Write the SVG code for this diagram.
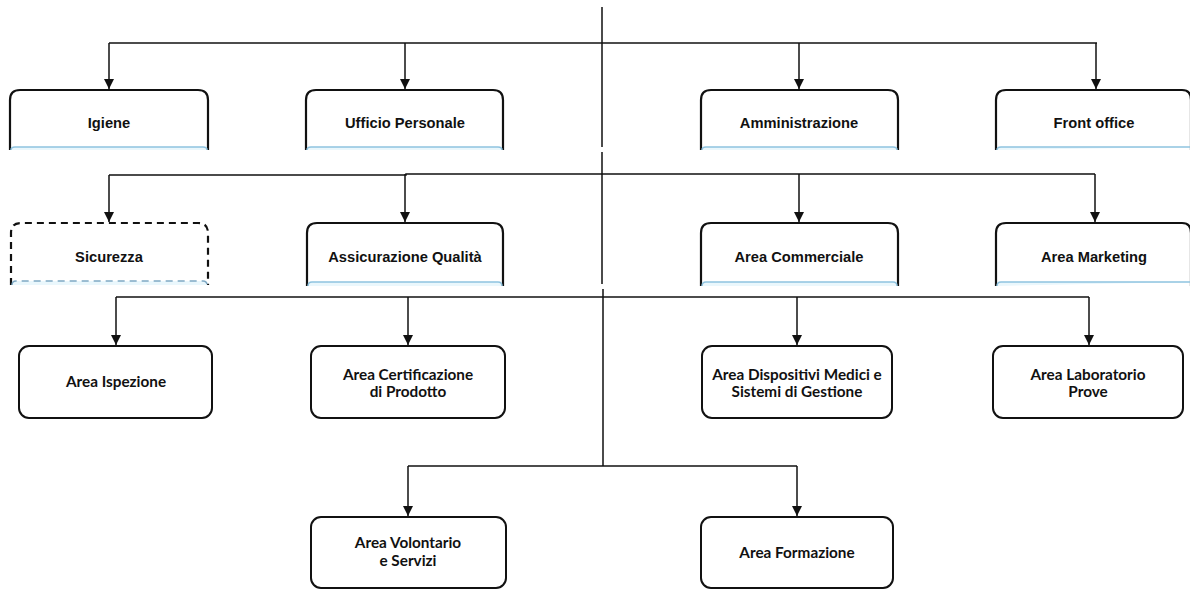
<svg xmlns="http://www.w3.org/2000/svg" width="1190" height="590" viewBox="0 0 1190 590">
<style>
.tab{fill:#fff;stroke:#111;stroke-width:2.2}
.band{fill:#eaf7fc;stroke:#8fc3df;stroke-width:1.5}
.box{fill:#fff;stroke:#111;stroke-width:2}
.dash{stroke-dasharray:7 5}
.t1{font-family:"Liberation Sans",Arial,sans-serif;font-weight:bold;font-size:14.7px;fill:#111;text-anchor:middle}
.t2{font-family:Lato,"Liberation Sans",sans-serif;font-weight:bold;font-size:15.3px;fill:#111;text-anchor:middle}
.ln{fill:none;stroke:#111;stroke-width:1.5}
</style>
<defs>
<marker id="ar" viewBox="0 0 10 10" refX="10" refY="5" markerWidth="10" markerHeight="10" markerUnits="userSpaceOnUse" orient="auto">
<path d="M0,0 L10,5 L0,10 Z" fill="#111"/>
</marker>
</defs>
<rect width="1190" height="590" fill="#fff"/>
<g id="connectors">
<path class="ln" d="M602,7 V147 M602,152 V284 M603,289 V466"/>
<path class="ln" d="M109,43 H1097"/>
<path class="ln" d="M109,43 V89" marker-end="url(#ar)"/>
<path class="ln" d="M405,43 V89" marker-end="url(#ar)"/>
<path class="ln" d="M799,43 V89" marker-end="url(#ar)"/>
<path class="ln" d="M1096,43 V89" marker-end="url(#ar)"/>
<path class="ln" d="M109,175 H406 V174 H1095"/>
<path class="ln" d="M109,175 V222" marker-end="url(#ar)"/>
<path class="ln" d="M405,174 V222" marker-end="url(#ar)"/>
<path class="ln" d="M799,174 V222" marker-end="url(#ar)"/>
<path class="ln" d="M1095,174 V222" marker-end="url(#ar)"/>
<path class="ln" d="M116,297 H1089"/>
<path class="ln" d="M116,297 V345" marker-end="url(#ar)"/>
<path class="ln" d="M408,297 V345" marker-end="url(#ar)"/>
<path class="ln" d="M797,297 V345" marker-end="url(#ar)"/>
<path class="ln" d="M1089,297 V345" marker-end="url(#ar)"/>
<path class="ln" d="M408,466 H797"/>
<path class="ln" d="M408,466 V516" marker-end="url(#ar)"/>
<path class="ln" d="M797,466 V516" marker-end="url(#ar)"/>
</g>
<g id="igiene">
<path class="tab" d="M10,150 V100 Q10,90 20,90 H198 Q208,90 208,100 V150"/>
<path class="band" d="M11,150 V150 Q11,147 15,147 H203 Q207,147 207,150"/>
<text class="t1" x="109" y="128">Igiene</text>
</g>
<g id="ufficio-personale">
<path class="tab" d="M306,150 V100 Q306,90 316,90 H493 Q503,90 503,100 V150"/>
<path class="band" d="M307,150 Q307,147 311,147 H498 Q502,147 502,150"/>
<text class="t1" x="405" y="128">Ufficio Personale</text>
</g>
<g id="amministrazione">
<path class="tab" d="M701,150 V100 Q701,90 711,90 H888 Q898,90 898,100 V150"/>
<path class="band" d="M702,150 Q702,147 706,147 H893 Q897,147 897,150"/>
<text class="t1" x="799" y="128">Amministrazione</text>
</g>
<g id="front-office">
<path class="tab" d="M996,150 V100 Q996,90 1006,90 H1182 Q1191,90 1191,100 V150"/>
<path class="band" d="M997,150 Q997,147 1001,147 H1190"/>
<text class="t1" x="1094" y="128">Front office</text>
</g>
<g id="sicurezza">
<path class="tab dash" d="M11,285 V233 Q11,223 21,223 H198 Q208,223 208,233 V285"/>
<path class="band dash" d="M12,285 Q12,281 16,281 H203 Q207,281 207,285" style="stroke:#7fa9c4"/>
<text class="t1" x="109" y="262">Sicurezza</text>
</g>
<g id="assicurazione-qualita">
<path class="tab" d="M307,286 V233 Q307,223 317,223 H493 Q503,223 503,233 V286"/>
<path class="band" d="M308,286 Q308,282 312,282 H498 Q502,282 502,286"/>
<text class="t1" x="405" y="262">Assicurazione Qualità</text>
</g>
<g id="area-commerciale">
<path class="tab" d="M701,286 V233 Q701,223 711,223 H888 Q898,223 898,233 V286"/>
<path class="band" d="M702,286 Q702,282 706,282 H893 Q897,282 897,286"/>
<text class="t1" x="799" y="262">Area Commerciale</text>
</g>
<g id="area-marketing">
<path class="tab" d="M996,286 V233 Q996,223 1006,223 H1182 Q1191,223 1191,233 V286"/>
<path class="band" d="M997,286 Q997,282 1001,282 H1190"/>
<text class="t1" x="1094" y="262">Area Marketing</text>
</g>
<g id="area-ispezione">
<rect class="box" x="19" y="346" width="193" height="72" rx="10"/>
<text class="t2" x="116" y="387">Area Ispezione</text>
</g>
<g id="area-certificazione">
<rect class="box" x="311" y="346" width="194" height="72" rx="10"/>
<text class="t2" x="408" y="380">Area Certificazione</text>
<text class="t2" x="408" y="397">di Prodotto</text>
</g>
<g id="area-dispositivi">
<rect class="box" x="702" y="346" width="190" height="72" rx="10"/>
<text class="t2" x="797" y="380">Area Dispositivi Medici e</text>
<text class="t2" x="797" y="397">Sistemi di Gestione</text>
</g>
<g id="area-laboratorio">
<rect class="box" x="993" y="346" width="190" height="72" rx="10"/>
<text class="t2" x="1088" y="380">Area Laboratorio</text>
<text class="t2" x="1088" y="397">Prove</text>
</g>
<g id="area-volontario">
<rect class="box" x="311" y="517" width="195" height="71" rx="10"/>
<text class="t2" x="408" y="548">Area Volontario</text>
<text class="t2" x="408" y="566">e Servizi</text>
</g>
<g id="area-formazione">
<rect class="box" x="701" y="517" width="192" height="71" rx="10"/>
<text class="t2" x="797" y="558">Area Formazione</text>
</g>
</svg>
